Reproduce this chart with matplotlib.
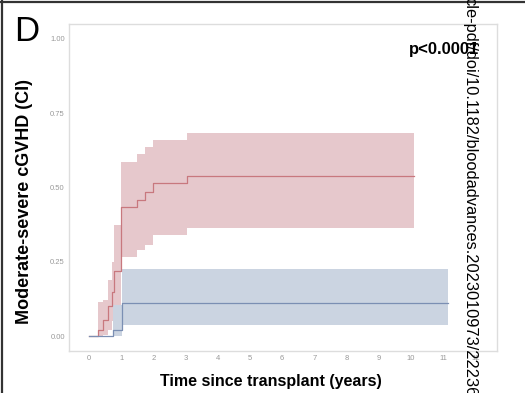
import matplotlib.pyplot as plt
import numpy as np

plt.rcParams['font.family'] = ['Liberation Sans', 'DejaVu Sans']

# cumulative incidence, step times in years
t_red = [0, 0.29, 0.45, 0.60, 0.72, 0.78, 0.98, 1.50, 1.75, 2.00, 3.05, 10.1]
ci_red = [0, 0.02, 0.055, 0.10, 0.15, 0.22, 0.435, 0.458, 0.486, 0.515, 0.539, 0.539]
lo_red = [0, 0.0, 0.005, 0.02, 0.05, 0.10, 0.267, 0.29, 0.306, 0.34, 0.364, 0.364]
hi_red = [0, 0.115, 0.12, 0.19, 0.25, 0.374, 0.586, 0.613, 0.635, 0.66, 0.682, 0.682]

t_blue = [0, 0.75, 1.02, 11.15]
ci_blue = [0, 0.02, 0.11, 0.11]
lo_blue = [0, 0.0, 0.039, 0.039]
hi_blue = [0, 0.104, 0.225, 0.225]

xticks = np.arange(0, 13)
yticks = [0.00, 0.25, 0.50, 0.75, 1.00]

fig = plt.figure(figsize=(5.25, 3.93), dpi=100, facecolor='w')
ax = fig.add_axes([0.1314, 0.1069, 0.8152, 0.832])

ax.fill_between(t_red, lo_red, hi_red, step='post', color='#e6c8cc', lw=0)
ax.fill_between(t_blue, lo_blue, hi_blue, step='post', color='#cbd4e1', lw=0)
ax.step(t_red, ci_red, where='post', color='#c8787e', lw=0.9)
ax.step(t_blue, ci_blue, where='post', color='#7b8fb3', lw=0.9)

ax.set_xlim(-0.62, 12.67)
ax.set_ylim(-0.05, 1.05)
ax.set_xticks(xticks)
ax.set_yticks(yticks)
ax.set_yticklabels(['%.2f' % v for v in yticks])
ax.tick_params(labelsize=5.5, colors='#999999', length=0, pad=3)
for s in ax.spines.values():
    s.set_color('#dddddd')
    s.set_linewidth(1.0)

fig.text(0.0476, 0.487, 'Moderate-severe cGVHD (CI)', rotation=90, fontsize=13,
         fontweight='bold', ha='center', va='center')
fig.text(0.516, 0.028, 'Time since transplant (years)', fontsize=11.5,
         fontweight='bold', ha='center', va='center')
fig.text(0.05, 0.921, 'D', fontsize=25, ha='center', va='center')
fig.text(0.846, 0.873, 'p<0.0001', fontsize=12, fontweight='bold', ha='center', va='center')

fig.text(0.894, 1.008, 'cle-pdf/doi/10.1182/bloodadvances.2023010973/2223685/',
         rotation=-90, fontsize=11.8, ha='center', va='top')

# panel frame, top and left edges
fig.add_artist(plt.Line2D([0, 1], [0.996, 0.996], color='#333333', lw=1.6))
fig.add_artist(plt.Line2D([0.004, 0.004], [0, 1], color='#333333', lw=1.6))

plt.savefig('out.png', dpi=100)
